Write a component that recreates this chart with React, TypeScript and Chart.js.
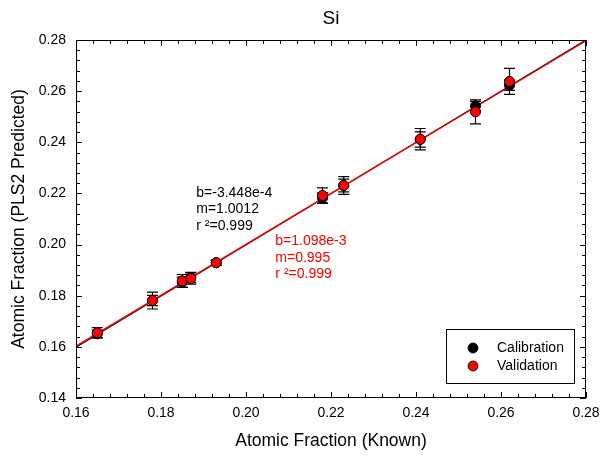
import { useEffect, useRef } from "react";
import { Chart, registerables } from "chart.js";

Chart.register(...registerables);

// Known atomic fraction of Si for each sample
const knownSi = [0.165, 0.178, 0.185, 0.187, 0.193, 0.218, 0.223, 0.241, 0.254, 0.262];

// PLS2 predictions and their uncertainties
const calibPred = [0.1651, 0.1781, 0.1853, 0.1871, 0.1929, 0.2182, 0.2231, 0.2411, 0.2542, 0.2623];
const calibErr = [0.0015, 0.002, 0.002, 0.002, 0.001, 0.002, 0.0025, 0.003, 0.0018, 0.002];
const validPred = [0.1655, 0.1781, 0.1858, 0.1867, 0.1929, 0.2192, 0.2231, 0.2412, 0.2519, 0.2638];
const validErr = [0.002, 0.0033, 0.0025, 0.0022, 0.001, 0.003, 0.0035, 0.0042, 0.0047, 0.0051];

// Linear fits: [intercept b, slope m, r²]
const calibFit = [-3.448e-4, 1.0012, 0.999];
const validFit = [1.098e-3, 0.995, 0.999];

// Axis tick labels
const xTicks = [0.16, 0.18, 0.2, 0.22, 0.24, 0.26, 0.28];
const yTicks = [0.14, 0.16, 0.18, 0.2, 0.22, 0.24, 0.26, 0.28];
const minorStep = 0.004;

const FONT = "'Liberation Sans', Arial, sans-serif";
const RED = "#ff0000";

const fitLabel = (fit: number[]) => [
  `b=${fit[0].toExponential(3)}`,
  `m=${fit[1]}`,
  `r ²=${fit[2].toFixed(3)}`,
];

const fitLine = (fit: number[]) =>
  [xTicks[0], xTicks[xTicks.length - 1]].map((x) => ({ x, y: fit[1] * x + fit[0] }));

const decorations = {
  id: "decorations",
  beforeDatasetsDraw(chart: any) {
    const { ctx, scales } = chart;
    const { x, y } = scales;
    ctx.save();
    ctx.strokeStyle = "#000";
    ctx.lineWidth = 1.2;
    const drawBars = (pred: number[], err: number[]) => {
      knownSi.forEach((k, i) => {
        const px = x.getPixelForValue(k);
        const y1 = y.getPixelForValue(pred[i] - err[i]);
        const y2 = y.getPixelForValue(pred[i] + err[i]);
        ctx.beginPath();
        ctx.moveTo(px, y1);
        ctx.lineTo(px, y2);
        ctx.moveTo(px - 5.5, y1);
        ctx.lineTo(px + 5.5, y1);
        ctx.moveTo(px - 5.5, y2);
        ctx.lineTo(px + 5.5, y2);
        ctx.stroke();
      });
    };
    drawBars(calibPred, calibErr);
    drawBars(validPred, validErr);
    ctx.restore();
  },
  afterDraw(chart: any) {
    const { ctx, chartArea, scales } = chart;
    const { left, right, top, bottom } = chartArea;
    const { x, y } = scales;
    ctx.save();
    // frame
    ctx.strokeStyle = "#000";
    ctx.lineWidth = 1;
    ctx.strokeRect(left + 0.5, top + 0.5, right - left - 1, bottom - top - 1);
    // inward ticks on all sides
    ctx.beginPath();
    const nx = Math.round((x.max - x.min) / minorStep);
    for (let i = 0; i <= nx; i++) {
      const px = Math.round(x.getPixelForValue(x.min + i * minorStep)) + 0.5;
      const len = i % 5 === 0 ? 6 : 4;
      ctx.moveTo(px, bottom);
      ctx.lineTo(px, bottom - len);
      ctx.moveTo(px, top);
      ctx.lineTo(px, top + len);
    }
    const ny = Math.round((y.max - y.min) / minorStep);
    for (let i = 0; i <= ny; i++) {
      const py = Math.round(y.getPixelForValue(y.min + i * minorStep)) + 0.5;
      const len = i % 5 === 0 ? 6 : 4;
      ctx.moveTo(left, py);
      ctx.lineTo(left + len, py);
      ctx.moveTo(right, py);
      ctx.lineTo(right - len, py);
    }
    ctx.stroke();

    // title
    ctx.fillStyle = "#000";
    ctx.font = `19px ${FONT}`;
    ctx.textAlign = "center";
    ctx.textBaseline = "middle";
    ctx.fillText("Si", (left + right) / 2, 19);

    // fit annotations
    ctx.font = `14px ${FONT}`;
    ctx.textAlign = "left";
    const drawLabel = (lines: string[], ax: number, ay: number, color: string) => {
      ctx.fillStyle = color;
      const px = x.getPixelForValue(ax);
      const py = y.getPixelForValue(ay);
      lines.forEach((s, i) => ctx.fillText(s, px, py + i * 16.5));
    };
    drawLabel(fitLabel(calibFit), 0.1883, 0.2202, "#000");
    drawLabel(fitLabel(validFit), 0.2069, 0.2013, RED);

    // legend box
    const bx = right - 140;
    const by = bottom - 69;
    ctx.fillStyle = "#fff";
    ctx.fillRect(bx, by, 128, 54);
    ctx.strokeStyle = "#000";
    ctx.strokeRect(bx + 0.5, by + 0.5, 128, 54);
    const items = chart.data.datasets.filter((d: any) => d.type === "scatter");
    items.forEach((d: any, i: number) => {
      const cy = by + 19 + i * 18;
      ctx.beginPath();
      ctx.arc(bx + 27, cy, 5, 0, Math.PI * 2);
      ctx.fillStyle = d.backgroundColor;
      ctx.fill();
      ctx.lineWidth = 0.8;
      ctx.strokeStyle = "#000";
      ctx.stroke();
      ctx.fillStyle = "#000";
      ctx.fillText(d.label, bx + 51, cy);
    });
    ctx.restore();
  },
};

export default function App() {
  const ref = useRef<HTMLCanvasElement>(null);

  useEffect(() => {
    if (!ref.current) return;
    const chart = new Chart(ref.current, {
      type: "scatter",
      data: {
        datasets: [
          {
            type: "scatter",
            label: "Calibration",
            data: knownSi.map((k, i) => ({ x: k, y: calibPred[i] })),
            backgroundColor: "#000",
            borderColor: "#000",
            borderWidth: 1,
            pointRadius: 5,
            order: 1,
          },
          {
            type: "scatter",
            label: "Validation",
            data: knownSi.map((k, i) => ({ x: k, y: validPred[i] })),
            backgroundColor: RED,
            borderColor: "#000",
            borderWidth: 1,
            pointRadius: 5,
            order: 0,
          },
          {
            type: "line",
            label: "Validation fit",
            data: fitLine(validFit),
            borderColor: RED,
            borderWidth: 1.3,
            pointRadius: 0,
            order: 2,
          },
          {
            type: "line",
            label: "Calibration fit",
            data: fitLine(calibFit),
            borderColor: "#000",
            borderWidth: 1.3,
            pointRadius: 0,
            order: 3,
          },
        ] as any,
      },
      options: {
        animation: false,
        responsive: false,
        layout: { padding: { top: 40, right: 14, left: 0, bottom: 0 } },
        plugins: { legend: { display: false }, tooltip: { enabled: false } },
        scales: {
          x: {
            type: "linear",
            min: 0.16,
            max: 0.28,
            grid: { display: false, drawTicks: false },
            border: { display: false },
            afterBuildTicks: (s: any) => {
              s.ticks = xTicks.map((v) => ({ value: v }));
            },
            afterFit: (s: any) => {
              s.height = 57;
              s.paddingLeft = 0;
              s.paddingRight = 0;
            },
            ticks: {
              color: "#000",
              padding: 7,
              font: { family: FONT, size: 14 },
              callback: (v: any) => Number(v).toFixed(2),
            },
            title: {
              display: true,
              text: "Atomic Fraction (Known)",
              color: "#000",
              font: { family: FONT, size: 17.5 },
              padding: { top: 0, bottom: 3 },
            },
          },
          y: {
            type: "linear",
            min: 0.14,
            max: 0.28,
            grid: { display: false, drawTicks: false },
            border: { display: false },
            afterBuildTicks: (s: any) => {
              s.ticks = yTicks.map((v) => ({ value: v }));
            },
            afterFit: (s: any) => {
              s.width = 76;
              s.paddingTop = 0;
              s.paddingBottom = 0;
            },
            ticks: {
              color: "#000",
              padding: 10,
              font: { family: FONT, size: 14 },
              callback: (v: any) => Number(v).toFixed(2),
            },
            title: {
              display: true,
              text: "Atomic Fraction (PLS2 Predicted)",
              color: "#000",
              font: { family: FONT, size: 17.5 },
              padding: { top: 9, bottom: 0 },
            },
          },
        },
      },
      plugins: [decorations],
    });
    return () => chart.destroy();
  }, []);

  return (
    <div style={{ position: "fixed", left: 0, top: 0, width: 600, height: 455, background: "#fff" }}>
      <canvas ref={ref} width={600} height={455} />
    </div>
  );
}
